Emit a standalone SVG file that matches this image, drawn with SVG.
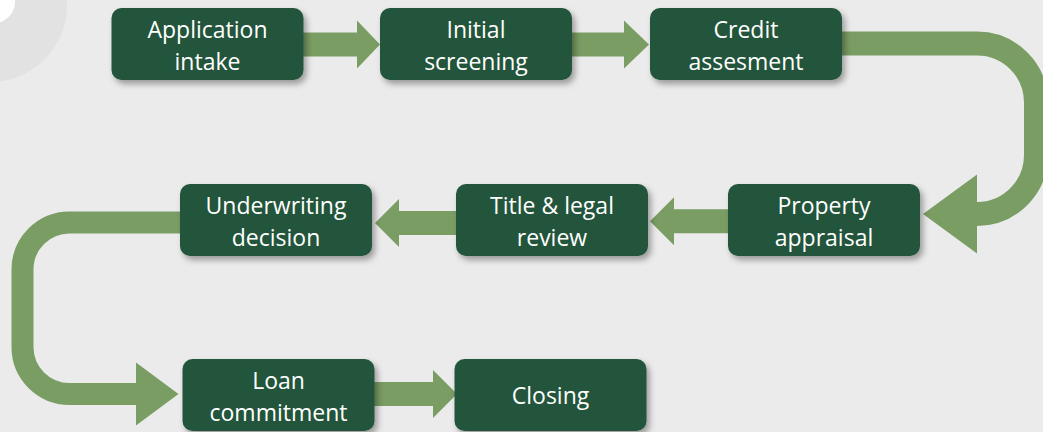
<svg xmlns="http://www.w3.org/2000/svg" width="1043" height="432" viewBox="0 0 1043 432">
  <defs>
    <filter id="sh" x="-10%" y="-20%" width="125%" height="150%">
      <feDropShadow dx="3" dy="4" stdDeviation="3" flood-color="#000" flood-opacity="0.35"/>
    </filter>
    <style>
      .box { fill: #22543a; filter: url(#sh); }
      .lbl { fill: #ffffff; font-family: "Open Sans", "Noto Sans", sans-serif; font-size: 23px; text-anchor: middle; }
      .arr { fill: #7a9d64; }
      .band { fill: none; stroke: #7a9d64; stroke-linecap: butt; stroke-linejoin: miter; }
    </style>
  </defs>
  <rect x="0" y="0" width="1043" height="432" fill="#ebebeb"/>
  <circle cx="-10" cy="5" r="77" fill="#e2e2e2"/>
  <circle cx="-6" cy="2" r="21" fill="#ffffff"/>

  <g id="connectors">
    <polygon class="arr" points="303,32.5 357,32.5 357,20.5 380,44.5 357,68.5 357,56.5 303,56.5"/>
    <polygon class="arr" points="572,32.5 624,32.5 624,20.5 649,44.5 624,68.5 624,56.5 572,56.5"/>
    <path class="band" stroke-width="24" d="M 842 43.5 H 977 A 59 59 0 0 1 1036 102.5 V 155 A 59 59 0 0 1 977 214 H 976"/>
    <polygon class="arr" points="977,174.5 977,253.5 923,214"/>
    <polygon class="arr" points="728,209.3 674,209.3 674,197.3 650,221.3 674,245.3 674,233.3 728,233.3"/>
    <polygon class="arr" points="456,211 399,211 399,199 375,223 399,247 399,235 456,235"/>
    <path class="band" stroke-width="22" d="M 181 222.5 H 69.5 A 47 47 0 0 0 22.5 269.5 V 347 A 47 47 0 0 0 69.5 394 H 137"/>
    <polygon class="arr" points="136,362.5 136,425.5 178.5,394"/>
    <polygon class="arr" points="374,382 433,382 433,370 457,394 433,418 433,406 374,406"/>
  </g>

  <g id="n1">
    <rect class="box" x="111.5" y="8" width="192" height="72" rx="10"/>
    <text class="lbl" x="207.5" y="37.5">Application</text>
    <text class="lbl" x="207.5" y="69.5">intake</text>
  </g>
  <g id="n2">
    <rect class="box" x="380" y="8" width="192" height="72" rx="10"/>
    <text class="lbl" x="476" y="37.5">Initial</text>
    <text class="lbl" x="476" y="69.5">screening</text>
  </g>
  <g id="n3">
    <rect class="box" x="650" y="8" width="192" height="72" rx="10"/>
    <text class="lbl" x="746" y="37.5">Credit</text>
    <text class="lbl" x="746" y="69.5">assesment</text>
  </g>
  <g id="n4">
    <rect class="box" x="728" y="184" width="192" height="72" rx="10"/>
    <text class="lbl" x="824" y="213.5">Property</text>
    <text class="lbl" x="824" y="245.5">appraisal</text>
  </g>
  <g id="n5">
    <rect class="box" x="456" y="184" width="192" height="72" rx="10"/>
    <text class="lbl" x="552" y="213.5">Title &amp; legal</text>
    <text class="lbl" x="552" y="245.5">review</text>
  </g>
  <g id="n6">
    <rect class="box" x="180" y="184" width="192" height="72" rx="10"/>
    <text class="lbl" x="276" y="213.5">Underwriting</text>
    <text class="lbl" x="276" y="245.5">decision</text>
  </g>
  <g id="n7">
    <rect class="box" x="182.5" y="359" width="192" height="72" rx="10"/>
    <text class="lbl" x="278.5" y="388.5">Loan</text>
    <text class="lbl" x="278.5" y="420.5">commitment</text>
  </g>
  <g id="n8">
    <rect class="box" x="454.5" y="359" width="192" height="72" rx="10"/>
    <text class="lbl" x="550.5" y="403.5">Closing</text>
  </g>
</svg>
